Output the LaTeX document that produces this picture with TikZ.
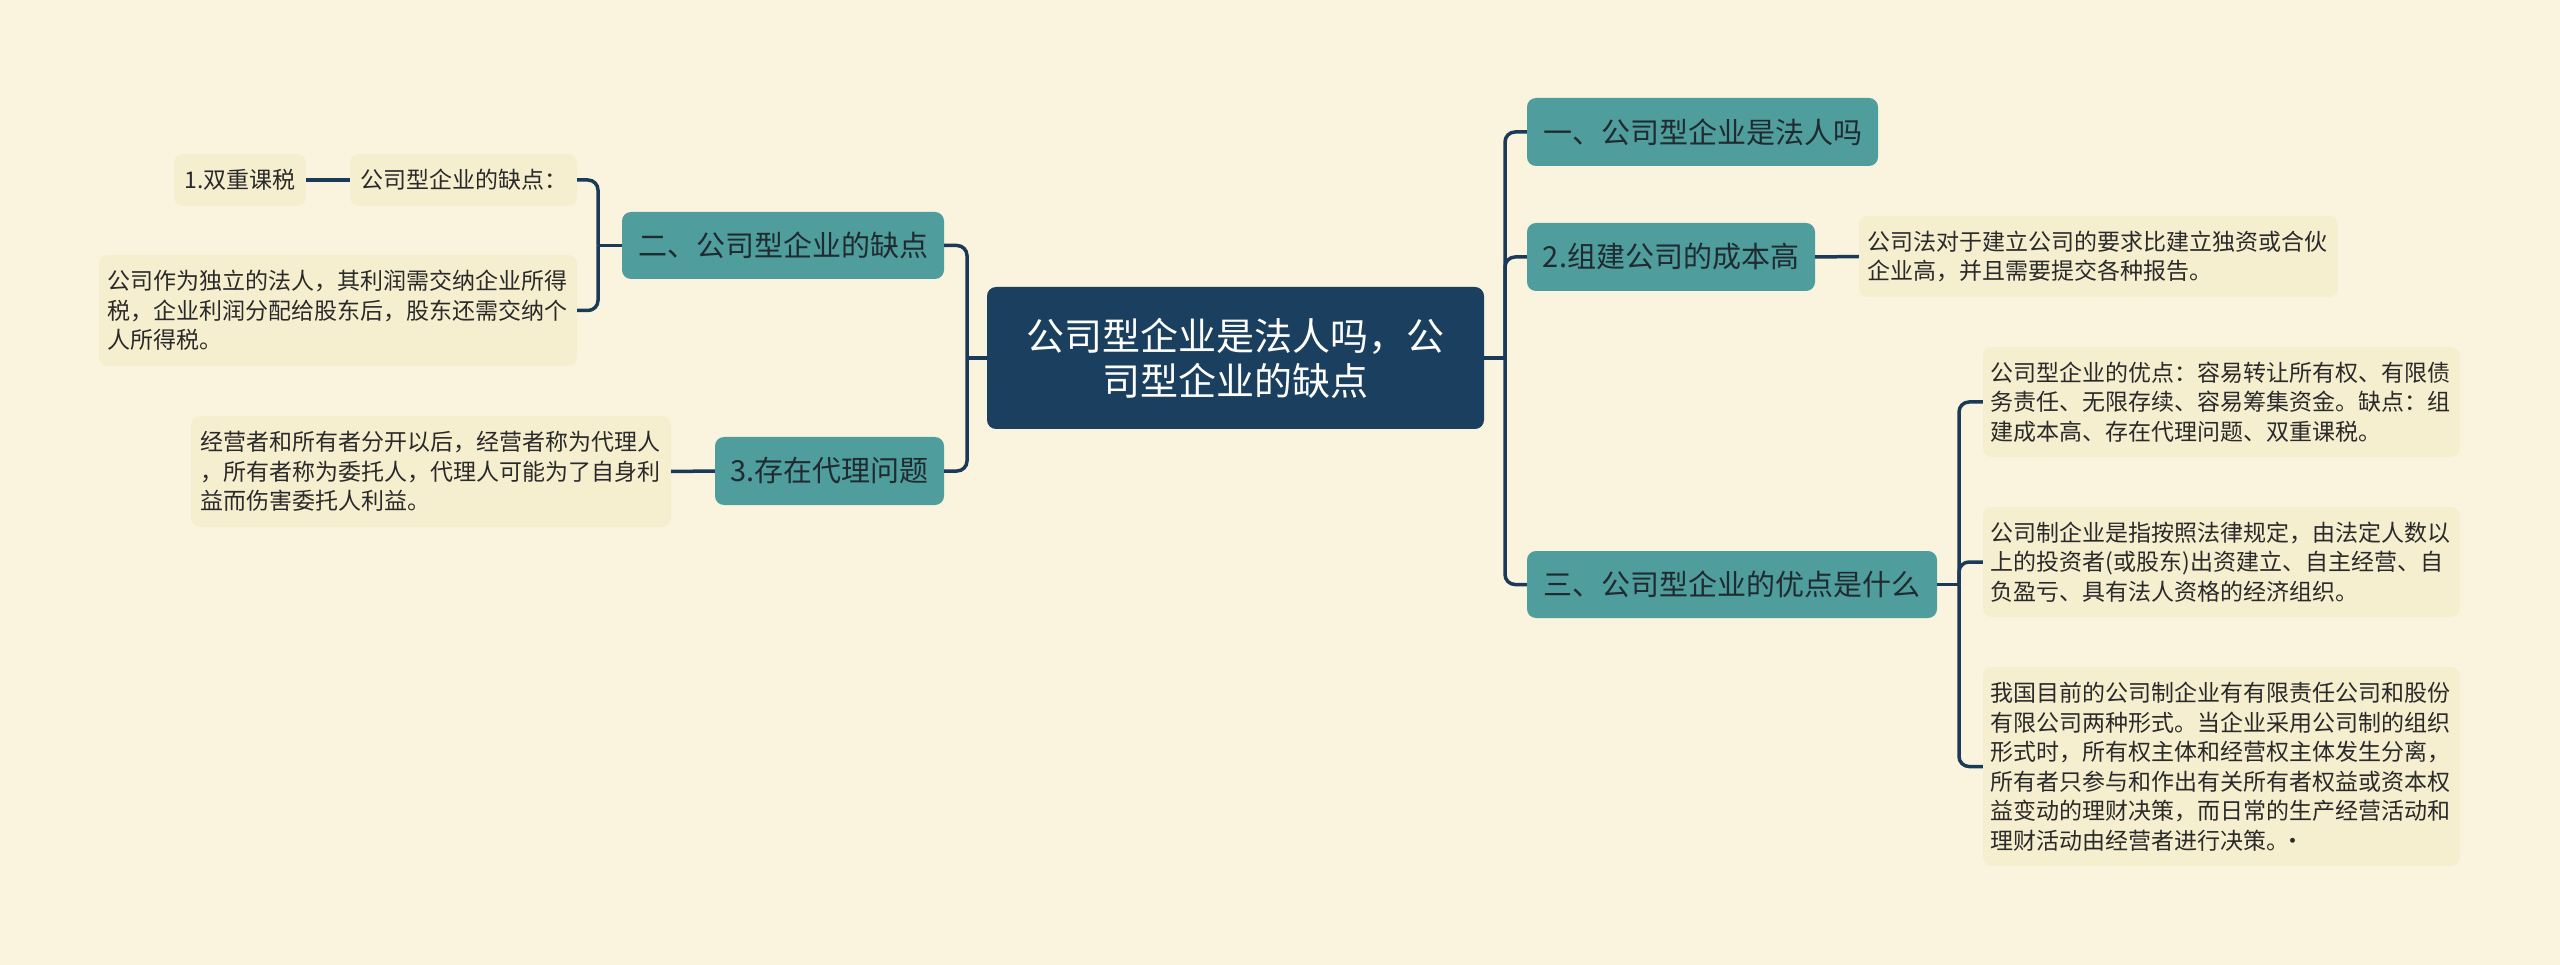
\documentclass[tikz,border=0pt]{standalone}
\usepackage{fontspec}
\setmainfont{Noto Sans CJK SC}
\definecolor{bgc}{HTML}{FAF4DF}
\definecolor{centralc}{HTML}{1A3F5F}
\definecolor{tealc}{HTML}{4F9D9C}
\definecolor{leafc}{HTML}{F5EFCF}
\definecolor{linec}{HTML}{1B3A57}
\definecolor{topictext}{HTML}{1F2B30}
\definecolor{leaftext}{HTML}{2A2A2A}
\begin{document}
\begin{tikzpicture}[x=1pt,y=-1pt,
  conn/.style={draw=linec, line width=3.5pt, rounded corners=10pt},
  central/.style={fill=centralc, rounded corners=9pt, inner sep=0pt, text=white, align=center,
    font=\fontsize{38}{45}\selectfont},
  topic/.style={fill=tealc, rounded corners=9pt, inner sep=0pt, text=topictext,
    font=\fontsize{29}{35}\selectfont},
  leaf/.style={fill=leafc, rounded corners=9pt, inner sep=0pt, text=leaftext, align=left,
    font=\fontsize{23}{29.5}\selectfont},
]
\useasboundingbox (0,0) rectangle (2560,965);
\fill[bgc] (0,0) rectangle (2560,965);

% central
\node[central, minimum width=497pt, minimum height=142pt] (c) at (1235.5,358)
  {公司型企业是法人吗，公\\司型企业的缺点};

% right topics
\node[topic, minimum width=351pt, minimum height=68pt] (t1) at (1702.5,132) {一、公司型企业是法人吗};
\node[topic, minimum width=288pt, minimum height=68pt] (t2) at (1671,257) {2.组建公司的成本高};
\node[topic, minimum width=410pt, minimum height=67pt] (t3) at (1732,584.5) {三、公司型企业的优点是什么};

\node[leaf, minimum width=479pt, minimum height=81pt, text width=462pt] (l2) at (2098.5,256.5)
  {公司法对于建立公司的要求比建立独资或合伙\\企业高，并且需要提交各种报告。};
\node[leaf, minimum width=477pt, minimum height=110pt, text width=462pt] (l31) at (2221.5,402)
  {公司型企业的优点：容易转让所有权、有限债\\务责任、无限存续、容易筹集资金。缺点：组\\建成本高、存在代理问题、双重课税。};
\node[leaf, minimum width=477pt, minimum height=110pt, text width=462pt] (l32) at (2221.5,562)
  {公司制企业是指按照法律规定，由法定人数以\\上的投资者(或股东)出资建立、自主经营、自\\负盈亏、具有法人资格的经济组织。};
\node[leaf, minimum width=477pt, minimum height=199pt, text width=462pt] (l33) at (2221.5,766.5)
  {我国目前的公司制企业有有限责任公司和股份\\有限公司两种形式。当企业采用公司制的组织\\形式时，所有权主体和经营权主体发生分离，\\所有者只参与和作出有关所有者权益或资本权\\益变动的理财决策，而日常的生产经营活动和\\理财活动由经营者进行决策。\kern-0.35em·};

% left topics
\node[topic, minimum width=322pt, minimum height=67pt] (t5) at (783,245.5) {二、公司型企业的缺点};
\node[topic, minimum width=229pt, minimum height=68pt] (t4) at (829.5,471) {3.存在代理问题};

\node[leaf, minimum width=227pt, minimum height=52pt] (l51) at (463.5,180) {公司型企业的缺点：};
\node[leaf, minimum width=132pt, minimum height=52pt] (l511) at (240,180) {1.双重课税};
\node[leaf, minimum width=478pt, minimum height=111pt, text width=462pt] (l52) at (338,310.5)
  {公司作为独立的法人，其利润需交纳企业所得\\税，企业利润分配给股东后，股东还需交纳个\\人所得税。};
\node[leaf, minimum width=480pt, minimum height=111pt, text width=462pt] (l4) at (431,471.5)
  {经营者和所有者分开以后，经营者称为代理人\\，所有者称为委托人，代理人可能为了自身利\\益而伤害委托人利益。};

% junctions
\coordinate (rj) at (1505,358);
\coordinate (lj) at (967,358);
\coordinate (j3) at (1959,584.5);
\coordinate (j5) at (598,245.5);

% connectors right
\draw[conn] (c.east) -- (rj);
\draw[conn] (rj) |- (t1.west);
\draw[conn] (rj) |- (t2.west);
\draw[conn] (rj) |- (t3.west);
\draw[conn] (t2.east) -- (l2.west);
\draw[conn] (t3.east) -- (j3);
\draw[conn] (j3) |- (l31.west);
\draw[conn] (j3) |- (l32.west);
\draw[conn] (j3) |- (l33.west);

% connectors left
\draw[conn] (c.west) -- (lj);
\draw[conn] (lj) |- (t5.east);
\draw[conn] (lj) |- (t4.east);
\draw[conn] (t5.west) -- (j5);
\draw[conn] (j5) |- (l51.east);
\draw[conn] (j5) |- (l52.east);
\draw[conn] (l51.west) -- (l511.east);
\draw[conn] (t4.west) -- (l4.east);
\end{tikzpicture}
\end{document}
